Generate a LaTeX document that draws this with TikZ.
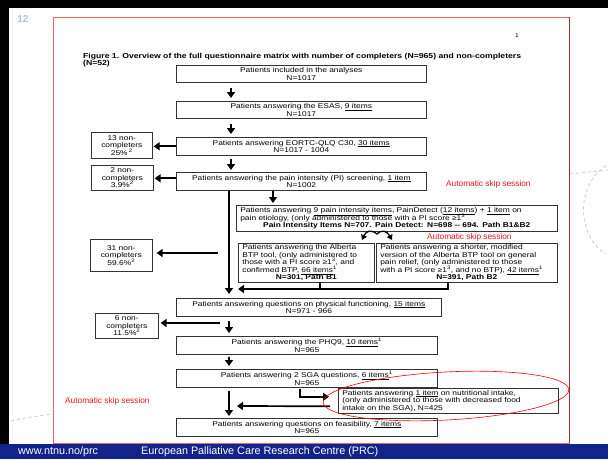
\documentclass[tikz,border=0pt]{standalone}
\usepackage{fontspec}
\setmainfont{Liberation Sans}
\newfontfamily\bxfont[FakeStretch=1.2]{Liberation Sans}
\usetikzlibrary{arrows.meta,calc}
\definecolor{slideblue}{RGB}{18,36,138}
\definecolor{numblue}{RGB}{168,198,226}
\definecolor{framered}{RGB}{240,100,100}
\definecolor{framedark}{RGB}{165,45,45}
\definecolor{skipred}{RGB}{235,20,20}
\newcommand{\tightlines}{\lineskiplimit=-10pt\lineskip=0pt\relax}
\tikzset{
  bx/.style={draw=black!80, line width=0.6pt, fill=white, inner xsep=4pt, inner ysep=0.5pt,
    font=\bxfont\fontsize{7}{7.5}\selectfont\tightlines, align=center, anchor=north west},
  bxl/.style={bx, align=left},
  arr/.style={line width=1.7pt, -{Triangle[width=8pt,length=6pt]}},
  ln/.style={line width=1.7pt},
  skiplbl/.style={text=skipred, font=\fontsize{8.3}{9}\selectfont, anchor=west, inner sep=0pt},
  deco/.style={gray!45, dashed, line width=0.7pt}
}
\begin{document}
\begin{tikzpicture}[x=1pt,y=-1pt]
\useasboundingbox (0,0) rectangle (608,459);
\fill[white] (0,0) rectangle (608,459);
% slide frame
\fill[black] (0,0) rectangle (608,8);
\fill[black] (0,0) rectangle (9,444);
\fill[slideblue] (0,444) rectangle (608,459);
\draw[deco] (11,421) .. controls (30,417) .. (53,414);
\draw[deco] (570,174) -- (608,170);
\draw[deco] (606,166) .. controls (576,184) and (576,236) .. (606,254);
\node[text=numblue, font=\bfseries\fontsize{10}{10}\selectfont] (num) at (23,19) {12};
\draw[framered, line width=0.8pt] (53,17) rectangle (569,443);
\draw[framedark, line width=1pt] (569,17) -- (569,443);
\node[white, font=\fontsize{10.8}{11}\selectfont, anchor=west, inner sep=0pt] (url) at (18,452) {www.ntnu.no/prc};
\node[white, font=\fontsize{10.8}{11}\selectfont, anchor=west, inner sep=0pt] (prc) at (141,452) {European Palliative Care Research Centre (PRC)};
% page content
\node[font=\bxfont\fontsize{5.5}{6}\selectfont] (page) at (517,36) {1};
\node[anchor=north west, align=left, inner sep=0pt, font=\bxfont\bfseries\fontsize{7.2}{7}\selectfont] (cap) at (83,53)
  {Figure 1. Overview of the full questionnaire matrix with number of completers (N=965) and non-completers\\(N=52)};
% main boxes
\node[bx, minimum width=250pt, minimum height=17pt] (b1) at (176,65) {Patients included in the analyses\\N=1017};
\node[bx, minimum width=250pt, minimum height=17pt] (b2) at (176,101) {Patients answering the ESAS, \underline{9 items}\\N=1017};
\node[bx, minimum width=250pt, minimum height=18pt] (b3) at (176,137) {Patients answering EORTC-QLQ C30, \underline{30 items}\\N=1017 - 1004};
\node[bx, minimum width=250pt, minimum height=18pt] (b4) at (176,172) {Patients answering the pain intensity (PI) screening, \underline{1 item}\\N=1002};
\node[bxl, text width=313pt, minimum height=26pt] (b5) at (236,205)
  {Patients answering \underline{9 pain intensity items}, PainDetect (\underline{12 items}) + \underline{1 item} on\\
   pain etiology, (only administered to those with a PI score ≥1\textsuperscript{3}\par
   \centerline{\bfseries Pain Intensity Items N=707. Pain Detect: N=698 -- 694. Path B1\&B2}};
\node[bxl, text width=128pt, minimum height=39pt] (b6) at (238,243)
  {Patients answering the Alberta\\
   BTP tool, (only administered to\\
   those with a PI score ≥1\textsuperscript{3}, and\\
   confirmed BTP, \underline{66 items}\textsuperscript{1}\par
   \centerline{\bfseries N=301, Path B1}};
\node[bxl, text width=173pt, minimum height=39pt] (b7) at (376,243)
  {Patients answering a shorter, modified\\
   version of the Alberta BTP tool on general\\
   pain relief, (only administered to those\\
   with a PI score ≥1\textsuperscript{3}, and no BTP), \underline{42 items}\textsuperscript{1}\par
   \centerline{\bfseries N=391, Path B2}};
\node[bx, minimum width=265pt, minimum height=18pt] (b8) at (176,298) {Patients answering questions on physical functioning, \underline{15 items}\\N=971 - 966};
\node[bx, minimum width=261pt, minimum height=18pt] (b9) at (176,336) {Patients answering the PHQ9, \underline{10 items}\textsuperscript{1}\\N=965};
\node[bx, minimum width=261pt, minimum height=18pt] (b10) at (176,369) {Patients answering 2 SGA questions, \underline{6 items}\textsuperscript{1}\\N=965};
\node[bxl, text width=212pt, minimum height=25pt] (b11) at (338,388)
  {Patients answering \underline{1 item} on nutritional intake,\\
   (only administered to those with decreased food\\
   intake on the SGA), N=425};
\node[bx, minimum width=261pt, minimum height=18pt] (b12) at (176,418) {Patients answering questions on feasibility, \underline{7 items}\\N=965};
% non-completers
\node[bx, minimum width=61pt, minimum height=26pt, inner xsep=1pt] (n13) at (91,132) {13 non-\\completers\\25\%\,\textsuperscript{2}};
\node[bx, minimum width=62pt, minimum height=25pt, inner xsep=1pt] (n2) at (91,165) {2 non-\\completers\\3.9\%\textsuperscript{2}};
\node[bx, minimum width=62pt, minimum height=32pt, inner xsep=1pt] (n31) at (90,239) {31 non-\\completers\\59.6\%\textsuperscript{2}};
\node[bx, minimum width=63pt, minimum height=25pt, inner xsep=1pt] (n6) at (95,313) {6 non-\\completers\\11.5\%\textsuperscript{2}};
% skip labels
\node[skiplbl] (s1) at (446,184) {Automatic skip session};
\node[skiplbl] (s2) at (427,237) {Automatic skip session};
\node[skiplbl] (s3) at (65,401) {Automatic skip session};
% connectors
\draw[arr, shorten <=5pt, shorten >=3pt] ([xshift=55pt]b1.south west) -- ([xshift=55pt]b2.north west);
\draw[arr, shorten <=5pt, shorten >=3pt] ([xshift=55pt]b2.south west) -- ([xshift=55pt]b3.north west);
\draw[arr, shorten <=3pt, shorten >=2pt] ([xshift=55pt]b3.south west) -- ([xshift=55pt]b4.north west);
\draw[arr, shorten >=1pt] (b3.west) -- (b3.west -| n13.east);
\draw[arr, shorten >=1pt] ([yshift=3pt]b4.west) -- ([yshift=3pt]b4.west -| n2.east);
\draw[arr, shorten >=4pt] ([xshift=53pt]b4.south west) -- ([xshift=53pt]b8.north west);
\draw[arr, shorten >=2pt] ([xshift=97pt]b4.south west) -- ([xshift=97pt]b4.south west |- b5.north);
\coordinate (c31) at (218,253);
\draw[arr, shorten >=4pt] (c31) -- (c31 -| n31.east);
\coordinate (wl) at (362,240);
\coordinate (wr) at (392,240);
\draw[line width=1.3pt, {Triangle[width=6pt,length=5pt]}-{Triangle[width=6pt,length=5pt]}]
  (wl) .. controls (366,231) and (371,229) .. (377,234) .. controls (382,229) and (387,231) .. (wr);
\coordinate (j) at (238,289);
\draw[ln] ([xshift=82pt]b6.south west) -- ([xshift=82pt]b6.south west |- j);
\draw[arr] ([xshift=72pt]b7.south west) |- (j);
\coordinate (c6) at (220,323);
\draw[arr, shorten >=2pt] (c6) -- (c6 -| n6.east);
\draw[arr, shorten <=4pt, shorten >=3pt] ([xshift=53pt]b8.south west) -- ([xshift=53pt]b9.north west);
\draw[arr, shorten <=2pt, shorten >=3pt] ([xshift=53pt]b9.south west) -- ([xshift=53pt]b10.north west);
\draw[arr, shorten <=3pt, shorten >=2pt] ([xshift=53pt]b10.south west) -- ([xshift=53pt]b12.north west);
\draw[arr, shorten <=1pt, shorten >=9pt] ([xshift=124pt]b10.south west) |- ([yshift=4pt]b11.west);
\coordinate (j2) at (237,406);
\draw[arr, shorten <=8pt] ([yshift=-5.5pt]b11.west) -- (j2);
\draw[red, line width=0.6pt] [rotate around={3:(446,396)}] (446,396) ellipse [x radius=123pt, y radius=24pt];
\end{tikzpicture}
\end{document}
